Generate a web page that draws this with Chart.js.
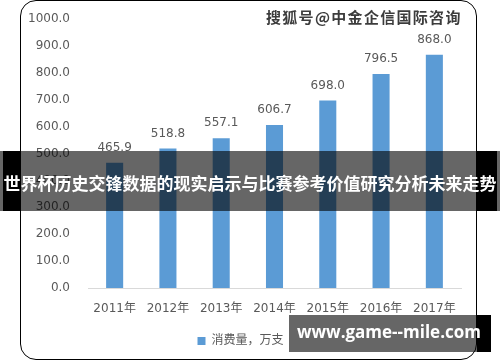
<!DOCTYPE html>
<html>
<head>
<meta charset="utf-8">
<script src="https://cdn.jsdelivr.net/npm/chart.js@4"></script>
<style>
  html, body { margin: 0; padding: 0; background: #fff; }
  body { width: 500px; height: 362px; position: relative; overflow: hidden; font-family: "DejaVu Sans", "Noto Sans CJK SC", sans-serif; }
  #card { position: absolute; left: 20px; top: 0; width: 457px; height: 360px; box-sizing: border-box; border: 1.5px solid #000; border-radius: 16px; background: #fff; }
  #wrap { position: absolute; left: 20px; top: -6px; width: 457px; height: 366px; }
  #mark { position: absolute; left: 266px; top: 6px; font: bold 15px "Noto Sans CJK SC", sans-serif; color: #3c3c3c; letter-spacing: 1.3px;
    text-shadow: 1px 0 #fff, -1px 0 #fff, 0 1px #fff, 0 -1px #fff; }
  .band { position: absolute; }
  #band { left: 0; top: 151px; width: 500px; height: 60px; background: rgba(0,0,0,0.6); }
  #bandL { left: 3px; top: 151px; width: 17px; height: 60px; background: #000; }
  #bandR { left: 477px; top: 151px; width: 20px; height: 60px; background: #000; }
  #bandText { left: 0; top: 153px; width: 500px; height: 60px; text-align: center; color: #fff; font: bold 17px "Noto Sans CJK SC", sans-serif; line-height: 60px; white-space: nowrap; }
  #site { left: 289px; top: 315px; width: 188px; height: 37px; background: rgba(0,0,0,0.6); }
  #siteR { left: 477px; top: 315px; width: 14px; height: 37px; background: #000; }
  #siteText { left: 288px; top: 313px; width: 202px; height: 37px; text-align: center; color: #fff; font: bold 17px "Open Sans", sans-serif; line-height: 37px; white-space: nowrap; }
</style>
</head>
<body>
<div id="card"></div>
<div id="wrap"><canvas id="chart"></canvas></div>
<div id="mark">搜狐号@中金企信国际咨询</div>
<div class="band" id="band"></div>
<div class="band" id="bandL"></div>
<div class="band" id="bandR"></div>
<div class="band" id="bandText">世界杯历史交锋数据的现实启示与比赛参考价值研究分析未来走势</div>
<div class="band" id="site"></div>
<div class="band" id="siteR"></div>
<div class="band" id="siteText">www.game--mile.com</div>
<script>
const years = ["2011年", "2012年", "2013年", "2014年", "2015年", "2016年", "2017年"];
const consumption = [465.9, 518.8, 557.1, 606.7, 698.0, 796.5, 868.0];
const seriesName = "消费量，万支";

const textColor = "#595959";
const fontFamily = '"DejaVu Sans", "Noto Sans CJK SC", sans-serif';

// values above each bar
const barLabels = {
    id: "barLabels",
    afterDatasetsDraw(chart) {
        const ctx = chart.ctx;
        const meta = chart.getDatasetMeta(0);
        ctx.save();
        ctx.font = "12px " + fontFamily;
        ctx.fillStyle = textColor;
        ctx.textAlign = "center";
        ctx.textBaseline = "middle";
        meta.data.forEach((bar, i) => {
            ctx.fillText(consumption[i].toFixed(1), bar.x, bar.y - 15);
        });
        ctx.restore();
    }
};

new Chart(document.getElementById("chart").getContext("2d"), {
    type: "bar",
    data: {
        labels: years,
        datasets: [{
            label: seriesName,
            data: consumption,
            backgroundColor: "#5B9BD5",
            categoryPercentage: 0.8,
            barPercentage: 0.4
        }]
    },
    options: {
        responsive: true,
        maintainAspectRatio: false,
        animation: false,
        layout: { padding: { left: 0, right: 16, top: 4, bottom: 3 } },
        plugins: {
            legend: {
                position: "bottom",
                labels: { boxWidth: 8, boxHeight: 8, color: textColor, font: { size: 12, family: fontFamily }, padding: 12 }
            },
            tooltip: { enabled: false }
        },
        scales: {
            x: {
                afterFit(scale) { scale.height = 35; },
                grid: { display: false },
                border: { color: "#D9D9D9", width: 1 },
                ticks: { color: textColor, font: { size: 12, family: fontFamily }, padding: 6 }
            },
            y: {
                min: 0,
                max: 1000,
                afterFit(scale) { scale.width = 68; },
                grid: { display: false, drawTicks: false },
                border: { display: false },
                ticks: {
                    stepSize: 100,
                    color: textColor,
                    font: { size: 12, family: fontFamily },
                    padding: 18,
                    callback: v => v.toFixed(1)
                }
            }
        }
    },
    plugins: [barLabels]
});
</script>
</body>
</html>
